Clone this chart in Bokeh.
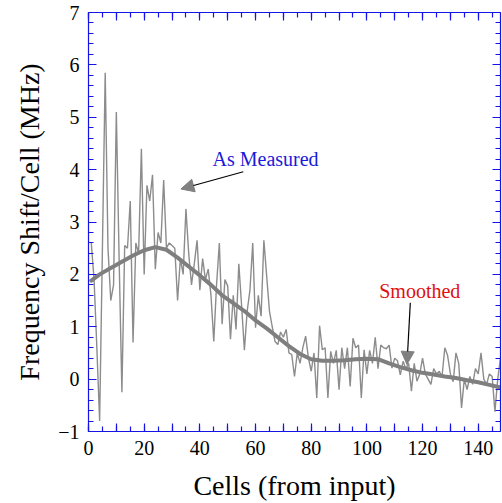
from bokeh.plotting import figure
from bokeh.models import LinearAxis, FixedTicker, Range1d, Arrow, NormalHead, Label
from bokeh.embed import file_html
from bokeh.resources import INLINE

# ---- data ----
cells = list(range(1, 149))
measured = [
    2.6, 1.9, 0.6, -0.8, 2.5, 5.85, 2.5, 1.5, 1.8, 5.1,
    2.3, -0.25, 2.55, 2.5, 3.4, 0.7, 2.6, 2.4, 4.4, 2.0,
    3.7, 3.4, 3.9, 2.1, 2.8, 2.6, 3.8, 2.5, 2.6, 2.55,
    2.5, 1.5, 2.3, 2.0, 3.25, 2.4, 1.8, 2.2, 2.65, 1.7,
    2.3, 1.9, 2.1, 1.6, 0.72, 1.8, 2.6, 1.05, 1.9, 1.78,
    0.76, 1.6, 0.95, 2.2, 1.4, 0.55, 1.3, 1.7, 2.6, 0.98,
    1.6, 1.2, 2.65, 1.97, 1.3, 1.0, 0.72, 0.66, 0.9, 0.8,
    0.95, 0.5, 0.47, 0.05, 0.5, 0.3, 0.6, 0.82, 0.4, 0.15,
    0.5, -0.36, 1.02, 0.56, 0.6, -0.36, 0.53, 0.3, 0.55, -0.2,
    0.6, 0.2, 0.6, -0.14, 0.78, 0.6, 0.65, -0.36, 0.56, 0.1,
    0.55, 0.3, 0.8, 0.2, 0.65, 0.6, 0.58, 0.65, 0.21, 0.4,
    0.35, 0.08, 0.34, 0.2, 0.3, -0.23, 0.3, -0.04, 0.1, 0.4,
    0.1, 0.0, -0.1, 0.2, 0.1, 0.15, 0.05, 0.6, 0.45, 0.1,
    -0.05, 0.5, 0.3, -0.55, 0.0, -0.2, 0.05, -0.1, 0.2, 0.1,
    0.5, 0.0, -0.1, 0.1, 0.05, -0.62, 0.0, 0.4,
]
smooth_x = [1, 4, 8, 12, 16, 20, 24, 28, 32, 36, 40, 44, 48, 52, 56, 60, 64, 68,
            72, 76, 80, 84, 88, 92, 96, 100, 104, 108, 112, 116, 120, 124, 128,
            132, 136, 140, 144, 148]
smooth_y = [1.88, 2.0, 2.12, 2.24, 2.36, 2.46, 2.52, 2.47, 2.32, 2.15, 1.98, 1.8,
            1.6, 1.45, 1.3, 1.12, 0.97, 0.8, 0.63, 0.48, 0.38, 0.35, 0.35, 0.36,
            0.38, 0.39, 0.38, 0.3, 0.23, 0.17, 0.12, 0.09, 0.05, 0.02, -0.02,
            -0.06, -0.11, -0.16]
x_major = [0, 10, 20, 30, 40, 50, 60, 70, 80, 90, 100, 110, 120, 130, 140]
x_minor = list(range(0, 150, 5))
y_major = [-1, 0, 1, 2, 3, 4, 5, 6, 7]
y_minor = [round(-1 + 0.2 * i, 1) for i in range(41)]

FONT = "Liberation Serif"
AXC = "#1414e6"

p = figure(width=502, height=503, x_range=Range1d(0, 148), y_range=Range1d(-1, 7),
           output_backend="svg", toolbar_location=None,
           min_border_left=88, min_border_top=12, min_border_right=2, min_border_bottom=10,
           x_axis_label="Cells (from input)", y_axis_label="Frequency Shift/Cell (MHz)")
p.grid.visible = False
p.outline_line_color = None
p.background_fill_color = "white"
p.border_fill_color = "white"

x_overrides = {t: ("" if t % 20 else str(t)) for t in x_major}
y_overrides = {-1: "\u22121"}

def style(ax, ticks, minor, labels=True, overrides=None):
    ax.ticker = FixedTicker(ticks=ticks, minor_ticks=minor)
    ax.axis_line_color = AXC
    ax.axis_line_width = 1.2
    ax.major_tick_line_color = AXC
    ax.minor_tick_line_color = AXC
    ax.major_tick_line_width = 1.2
    ax.minor_tick_line_width = 1.2
    ax.major_tick_in = 8
    ax.major_tick_out = 0
    ax.minor_tick_in = 5
    ax.minor_tick_out = 0
    if labels:
        ax.major_label_text_font = FONT
        ax.major_label_text_font_size = "20px"
        ax.major_label_text_color = "black"
        ax.major_label_standoff = 9
        ax.axis_label_text_font = FONT
        ax.axis_label_text_font_size = "28px"
        ax.axis_label_text_font_style = "normal"
        ax.axis_label_text_color = "black"
        if overrides:
            ax.major_label_overrides = overrides
    else:
        ax.major_label_text_font_size = "0px"
        ax.major_label_standoff = 0
        ax.major_label_text_alpha = 0

style(p.xaxis[0], x_major, x_minor, True, x_overrides)
p.xaxis[0].axis_label_standoff = 12
style(p.yaxis[0], y_major, y_minor, True, y_overrides)
p.yaxis[0].axis_label_standoff = 10

top = LinearAxis()
style(top, x_major, x_minor, False)
p.add_layout(top, "above")
right = LinearAxis()
style(right, y_major, y_minor, False)
p.add_layout(right, "right")

p.line(cells, measured, line_color="#8c8c8c", line_width=1.4)
p.line(smooth_x, smooth_y, line_color="#7f7f7f", line_width=4, line_join="round", line_cap="round")

p.add_layout(Label(x=63.6, y=4.2, text="As Measured", text_align="center", text_baseline="middle",
                   text_font=FONT, text_font_size="20px", text_color="#1a1ad8"))
p.add_layout(Label(x=119, y=1.68, text="Smoothed", text_align="center", text_baseline="middle",
                   text_font=FONT, text_font_size="20px", text_color="#e01010"))
p.add_layout(Arrow(end=NormalHead(size=13, fill_color="#808080", line_color="#808080"),
                   x_start=55.6, y_start=3.96, x_end=33.2, y_end=3.63,
                   line_color="black", line_width=1.2))
p.add_layout(Arrow(end=NormalHead(size=13, fill_color="#808080", line_color="#808080"),
                   x_start=115.6, y_start=1.46, x_end=114.4, y_end=0.28,
                   line_color="black", line_width=1.2))

open("out.html", "w").write(file_html(p, INLINE))
